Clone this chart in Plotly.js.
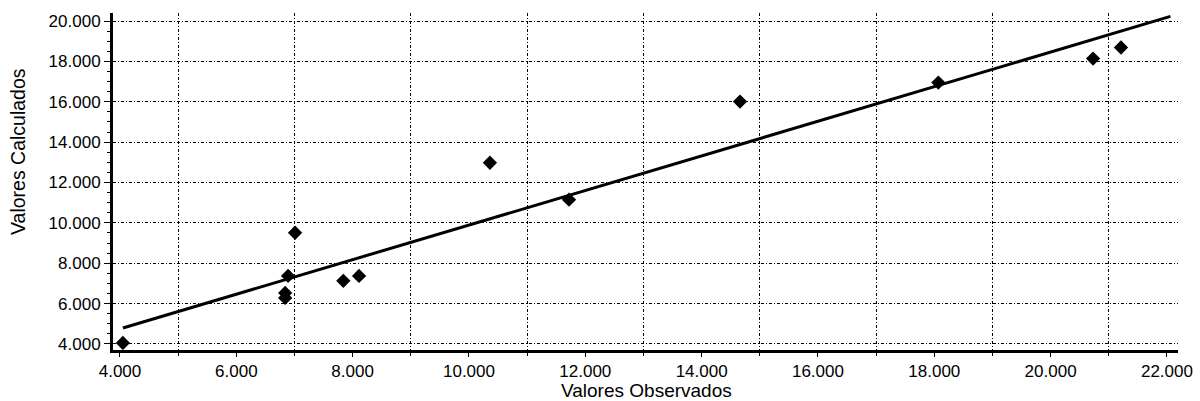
<!DOCTYPE html>
<html>
<head>
<meta charset="utf-8">
<script src="https://cdn.plot.ly/plotly-3.0.1.min.js"></script>
<style>html,body{margin:0;padding:0;background:#fff;}#chart{width:1200px;height:401px;}</style>
</head>
<body>
<div id="chart"></div>
<script>
var observed   = [4050, 6840, 6840, 6890, 7010, 7840, 8110, 10360, 11720, 14660, 18070, 20730, 21210];
var calculated = [4050, 6530, 6280, 7370, 9510, 7130, 7370, 12980, 11150, 16010, 16950, 18140, 18690];
// Fitted line end points
var fitX = [4050, 22060];
var fitY = [4790, 20230];
var xTickVals = [4000, 6000, 8000, 10000, 12000, 14000, 16000, 18000, 20000, 22000];
var yTickVals = [4000, 6000, 8000, 10000, 12000, 14000, 16000, 18000, 20000];
var xTitle = "Valores Observados";
var yTitle = "Valores Calculados";

var fam = "Liberation Sans, Arial, sans-serif";
var tickFont = {family: fam, size: 17, color: "#000"};
var gridDash = "3px,2px,1px,2px";

var traces = [
  {x: fitX, y: fitY, type: "scatter", mode: "lines",
   line: {color: "#000", width: 3}, hoverinfo: "skip", showlegend: false},
  {x: observed, y: calculated, type: "scatter", mode: "markers",
   marker: {symbol: "diamond", size: 11, color: "#000"}, showlegend: false},
  // invisible trace to carry the offset vertical grid axis
  {x: [observed[0]], y: [calculated[0]], xaxis: "x2", type: "scatter", mode: "markers",
   marker: {opacity: 0}, hoverinfo: "skip", showlegend: false}
];

var layout = {
  width: 1200, height: 401,
  margin: {l: 113, r: 22, t: 13, b: 51},
  paper_bgcolor: "#fff", plot_bgcolor: "#fff",
  separators: ",.",
  font: tickFont,
  showlegend: false,
  xaxis: {
    range: [3880, 22190], tickvals: xTickVals, tickformat: ",d",
    showgrid: false, zeroline: false,
    showline: true, linecolor: "#000", linewidth: 3,
    ticks: "outside", ticklen: 4, tickwidth: 1, tickcolor: "#000",
    minor: {dtick: 1000, ticks: "outside", ticklen: 3, tickcolor: "#000", showgrid: false},
    tickfont: tickFont
  },
  xaxis2: {
    overlaying: "x", matches: "x", side: "bottom",
    tick0: 5000, dtick: 2000, showticklabels: false, ticks: "",
    showgrid: true, gridcolor: "#000", gridwidth: 1, griddash: gridDash,
    zeroline: false, showline: false
  },
  yaxis: {
    range: [3700, 20400], tickvals: yTickVals, tickformat: ",d",
    showgrid: true, gridcolor: "#000", gridwidth: 1, griddash: gridDash,
    zeroline: false,
    showline: true, linecolor: "#000", linewidth: 3,
    ticks: "outside", ticklen: 6, tickwidth: 1, tickcolor: "#000",
    minor: {dtick: 500, ticks: "outside", ticklen: 3, tickcolor: "#000", showgrid: false},
    tickfont: tickFont
  },
  annotations: [
    {text: xTitle, xref: "paper", yref: "paper", x: 0.5014, y: -0.1187,
     xanchor: "center", yanchor: "middle", showarrow: false,
     font: {family: fam, size: 19, color: "#000"}},
    {text: yTitle, xref: "paper", yref: "paper", x: -0.0892, y: 0.5875,
     xanchor: "center", yanchor: "middle", textangle: -90, showarrow: false,
     font: {family: fam, size: 19.5, color: "#000"}}
  ]
};

Plotly.newPlot("chart", traces, layout, {displayModeBar: false, staticPlot: true});
</script>
</body>
</html>
